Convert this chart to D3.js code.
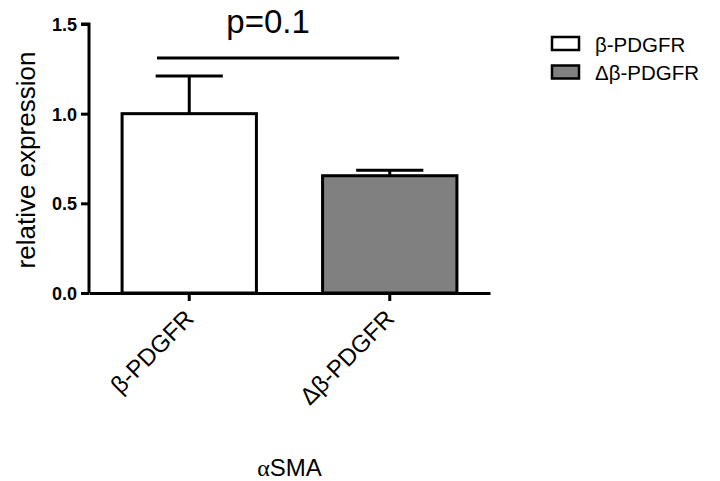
<!DOCTYPE html>
<html>
<head>
<meta charset="utf-8">
<script src="https://cdn.jsdelivr.net/npm/d3@7"></script>
<style>
  body { margin: 0; background: #fff; }
  svg { display: block; font-family: "Liberation Sans", Arial, sans-serif; }
</style>
</head>
<body>
<div id="chart"></div>
<script>
// data
const groups = ["β-PDGFR", "Δβ-PDGFR"];
const means = [1.0, 0.654];
const errors = [0.21, 0.03];
const fills = ["#ffffff", "#808080"];
const yTicks = [0, 0.5, 1.0, 1.5];
const pLabel = "p=0.1";
const sigLevel = 1.31;
const geneLabel = "SMA";

const width = 720, height = 481;
const margin = {top: 24, left: 89, bottom: 188, right: 230};

const svg = d3.select("#chart").append("svg")
  .attr("width", width)
  .attr("height", height);

const x = d3.scaleBand()
  .domain(groups)
  .range([margin.left, width - margin.right])
  .paddingInner(0.33)
  .paddingOuter(0.165);

const y = d3.scaleLinear()
  .domain([0, 1.5])
  .range([height - margin.bottom, margin.top]);

const data = groups.map((g, i) => ({group: g, mean: means[i], err: errors[i], fill: fills[i]}));

// bars
svg.append("g")
  .attr("class", "bars")
  .selectAll("rect")
  .data(data)
  .enter().append("rect")
  .attr("x", d => x(d.group))
  .attr("y", d => y(d.mean))
  .attr("width", x.bandwidth())
  .attr("height", d => y(0) - y(d.mean))
  .style("fill", d => d.fill)
  .style("stroke", "#000")
  .style("stroke-width", 3);

// upper error bars
const eb = svg.append("g").attr("class", "errors")
  .selectAll("g")
  .data(data)
  .enter().append("g");

eb.append("line")
  .attr("x1", d => x(d.group) + x.bandwidth() / 2)
  .attr("x2", d => x(d.group) + x.bandwidth() / 2)
  .attr("y1", d => y(d.mean))
  .attr("y2", d => y(d.mean + d.err))
  .style("stroke", "#000")
  .style("stroke-width", 3);

eb.append("line")
  .attr("x1", d => x(d.group) + x.bandwidth() / 4)
  .attr("x2", d => x(d.group) + x.bandwidth() * 3 / 4)
  .attr("y1", d => y(d.mean + d.err))
  .attr("y2", d => y(d.mean + d.err))
  .style("stroke", "#000")
  .style("stroke-width", 3);

// y axis
const yAxis = d3.axisLeft(y)
  .tickValues(yTicks)
  .tickSize(8)
  .tickPadding(4)
  .tickFormat(d3.format(".1f"));

const gy = svg.append("g")
  .attr("class", "y axis")
  .attr("transform", "translate(" + margin.left + ",0)")
  .call(yAxis);

gy.select(".domain").attr("d", "M-8," + y(1.5) + "H0V" + y(0));
gy.selectAll("line, path").style("stroke", "#000").style("stroke-width", 3);
gy.selectAll(".tick text")
  .style("font-size", "18px")
  .style("font-weight", "bold")
  .attr("dy", "0.36em")
  .style("fill", "#000");

// x axis
const xAxis = d3.axisBottom(x)
  .tickSize(8)
  .tickSizeOuter(0);

const gx = svg.append("g")
  .attr("class", "x axis")
  .attr("transform", "translate(0," + y(0) + ")")
  .call(xAxis);

gx.selectAll("line, path").style("stroke", "#000").style("stroke-width", 3);
gx.selectAll(".tick text")
  .style("font-size", "24px")
  .style("text-anchor", "end")
  .style("fill", "#000")
  .attr("x", 0)
  .attr("y", 0)
  .attr("dy", "0.36em")
  .attr("transform", "translate(0,21) rotate(-45)");

// y label
svg.append("text")
  .attr("transform", "translate(" + (margin.left - 54) + ",160) rotate(-90)")
  .style("text-anchor", "middle")
  .style("font-size", "26px")
  .text("relative expression");

// significance line
const x0 = x(groups[0]) + x.bandwidth() * 0.26;
const x1 = x(groups[1]) + x.bandwidth() * 0.57;
svg.append("line")
  .attr("x1", x0)
  .attr("x2", x1)
  .attr("y1", y(sigLevel))
  .attr("y2", y(sigLevel))
  .style("stroke", "#000")
  .style("stroke-width", 3);

svg.append("text")
  .attr("x", (x0 + x1) / 2 - 10)
  .attr("y", y(sigLevel) - 25)
  .style("text-anchor", "middle")
  .style("font-size", "33px")
  .text(pLabel);

// x title
const xt = svg.append("text")
  .attr("x", (x(groups[0]) + x(groups[1]) + x.bandwidth()) / 2)
  .attr("y", 476)
  .style("text-anchor", "middle")
  .style("font-size", "24px");
xt.append("tspan").style("font-family", "'Liberation Serif', serif").text("α");
xt.append("tspan").text(geneLabel);

// legend
const legend = svg.append("g")
  .attr("class", "legend")
  .attr("transform", "translate(552,37)")
  .selectAll("g")
  .data(data)
  .enter().append("g")
  .attr("transform", (d, i) => "translate(0," + i * 28.5 + ")");

legend.append("rect")
  .attr("width", 27)
  .attr("height", 13)
  .style("fill", d => d.fill)
  .style("stroke", "#000")
  .style("stroke-width", 2.5);

legend.append("text")
  .attr("x", 43)
  .attr("y", 14.5)
  .style("font-size", "20.5px")
  .text(d => d.group);
</script>
</body>
</html>
